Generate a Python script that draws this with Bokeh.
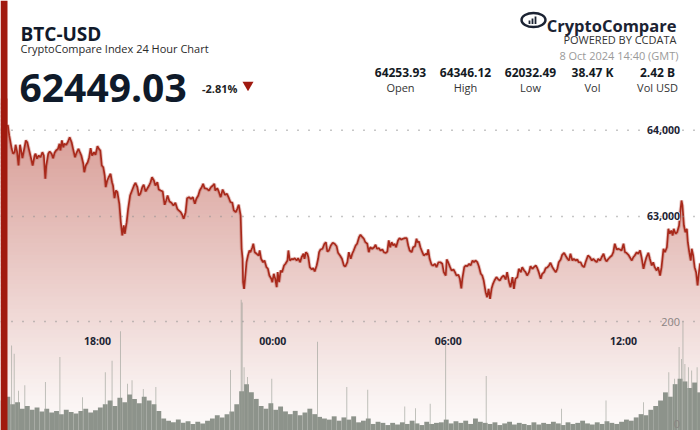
import datetime as dt
from bokeh.plotting import figure
from bokeh.models import Range1d, Label, Span, BoxAnnotation
from bokeh.embed import file_html
from bokeh.resources import INLINE

# ---------------- data ----------------
START = dt.datetime(2024, 10, 7, 14, 41, tzinfo=dt.timezone.utc)
END = dt.datetime(2024, 10, 8, 14, 38, tzinfo=dt.timezone.utc)

# price: minutes after START, index price (USD)
price_minutes = [
    15, 18, 23, 26, 29, 31, 34, 37, 40, 43, 45, 48, 52, 55, 59, 63, 66, 70, 72, 75,
    78, 82, 86, 89, 92, 94, 98, 101, 105, 108, 111, 114, 118, 121, 123, 126, 129, 131, 135, 138,
    142, 146, 149, 153, 156, 160, 163, 166, 170, 172, 175, 179, 182, 185, 188, 192, 195, 199, 202, 205,
    208, 211, 214, 216, 219, 222, 226, 229, 231, 234, 237, 240, 244, 247, 250, 253, 255, 259, 262, 266,
    270, 274, 277, 281, 284, 287, 291, 294, 298, 301, 305, 308, 311, 315, 318, 322, 325, 329, 333, 337,
    340, 343, 347, 351, 355, 359, 363, 366, 370, 373, 376, 380, 383, 387, 391, 395, 399, 402, 406, 409,
    413, 416, 419, 424, 428, 432, 436, 439, 441, 445, 448, 452, 456, 461, 465, 469, 472, 476, 479, 483,
    486, 489, 493, 495, 497, 498, 500, 502, 505, 508, 511, 513, 517, 519, 522, 526, 530, 532, 535, 539,
    542, 546, 549, 552, 556, 558, 561, 564, 567, 569, 572, 575, 578, 582, 585, 589, 591, 594, 598, 601,
    604, 608, 611, 615, 618, 622, 624, 627, 630, 632, 635, 639, 642, 645, 649, 652, 654, 657, 661, 665,
    668, 671, 674, 678, 682, 686, 690, 693, 697, 701, 705, 708, 712, 715, 719, 722, 725, 729, 732, 736,
    739, 743, 746, 749, 753, 756, 759, 763, 767, 770, 773, 777, 780, 784, 787, 791, 794, 797, 800, 803,
    806, 809, 812, 816, 819, 823, 826, 830, 834, 837, 840, 844, 847, 851, 854, 856, 859, 862, 866, 869,
    873, 876, 878, 881, 885, 888, 892, 895, 899, 903, 907, 910, 914, 916, 919, 923, 926, 930, 933, 936,
    940, 943, 946, 948, 952, 955, 958, 962, 965, 969, 972, 975, 979, 982, 986, 989, 992, 996, 999, 1002,
    1005, 1008, 1011, 1014, 1018, 1021, 1025, 1029, 1033, 1037, 1040, 1044, 1047, 1051, 1054, 1057, 1061, 1064, 1068, 1071,
    1075, 1078, 1081, 1085, 1088, 1092, 1095, 1099, 1102, 1105, 1109, 1112, 1116, 1119, 1123, 1126, 1129, 1133, 1136, 1140,
    1143, 1146, 1150, 1153, 1157, 1160, 1164, 1167, 1170, 1174, 1177, 1181, 1184, 1187, 1191, 1194, 1198, 1201, 1206, 1210,
    1214, 1217, 1220, 1224, 1227, 1231, 1234, 1238, 1241, 1244, 1248, 1251, 1255, 1258, 1261, 1265, 1268, 1272, 1275, 1279,
    1282, 1285, 1289, 1292, 1296, 1299, 1302, 1306, 1309, 1313, 1316, 1320, 1323, 1326, 1330, 1333, 1337, 1340, 1343, 1347,
    1350, 1354, 1357, 1361, 1364, 1368, 1371, 1374, 1377, 1380, 1382, 1386, 1389, 1393, 1395, 1398, 1400, 1403, 1406, 1409,
    1411, 1414, 1417, 1419, 1422, 1425, 1428, 1431, 1433, 1436, 1439,
]
price_values = [
    64063, 63939, 63784, 63727, 63745, 63831, 63753, 63591, 63831, 63745,
    63676, 63765, 63881, 63861, 63765, 63669, 63591, 63707, 63727, 63669,
    63707, 63687, 63745, 63707, 63437, 63591, 63727, 63753, 63727, 63676,
    63738, 63765, 63784, 63842, 63765, 63881, 63803, 63842, 63831, 63861,
    63919, 63861, 63784, 63687, 63738, 63784, 63745, 63707, 63611, 63513,
    63591, 63629, 63687, 63791, 63707, 63745, 63715, 63815, 63784, 63765,
    63591, 63571, 63475, 63340, 63417, 63455, 63495, 63397, 63359, 63212,
    63301, 63282, 63147, 62934, 62780, 62896, 62800, 62934, 63089, 63243,
    63301, 63359, 63390, 63340, 63243, 63263, 63340, 63367, 63290, 63321,
    63359, 63397, 63455, 63417, 63359, 63397, 63313, 63301, 63290, 63136,
    63185, 63243, 63174, 63159, 63127, 63159, 63089, 63070, 63050, 63020,
    62973, 63050, 63212, 63224, 63205, 63224, 63147, 63205, 63243, 63301,
    63340, 63379, 63328, 63321, 63301, 63340, 63359, 63379, 63301, 63328,
    63290, 63224, 63313, 63251, 63263, 63212, 63168, 63159, 63070, 63050,
    63089, 63136, 63012, 62626, 62510, 62239, 62162, 62278, 62470, 62548,
    62606, 62586, 62644, 62684, 62586, 62568, 62548, 62606, 62510, 62470,
    62490, 62413, 62394, 62316, 62278, 62239, 62336, 62278, 62181, 62355,
    62239, 62374, 62355, 62432, 62452, 62490, 62606, 62490, 62510, 62502,
    62517, 62490, 62517, 62470, 62528, 62568, 62510, 62586, 62568, 62528,
    62413, 62386, 62401, 62363, 62432, 62510, 62586, 62618, 62626, 62684,
    62702, 62594, 62606, 62664, 62695, 62684, 62656, 62579, 62548, 62510,
    62432, 62421, 62470, 62586, 62510, 62568, 62606, 62664, 62684, 62760,
    62788, 62760, 62742, 62702, 62684, 62586, 62644, 62626, 62644, 62672,
    62626, 62633, 62606, 62618, 62586, 62579, 62594, 62722, 62644, 62702,
    62664, 62684, 62644, 62722, 62749, 62733, 62742, 62749, 62749, 62664,
    62606, 62586, 62644, 62656, 62742, 62702, 62710, 62644, 62586, 62548,
    62568, 62556, 62618, 62510, 62440, 62432, 62452, 62413, 62470, 62470,
    62452, 62355, 62316, 62502, 62470, 62413, 62374, 62386, 62355, 62316,
    62324, 62278, 62166, 62278, 62413, 62432, 62424, 62452, 62432, 62490,
    62470, 62490, 62470, 62424, 62336, 62316, 62258, 62123, 62065, 62162,
    62046, 62162, 62220, 62258, 62297, 62278, 62258, 62297, 62316, 62270,
    62355, 62239, 62181, 62297, 62162, 62278, 62297, 62394, 62355, 62413,
    62374, 62355, 62316, 62355, 62424, 62394, 62413, 62432, 62401, 62355,
    62278, 62336, 62355, 62401, 62413, 62432, 62464, 62413, 62386, 62355,
    62394, 62470, 62502, 62556, 62579, 62548, 62510, 62490, 62568, 62490,
    62510, 62490, 62502, 62470, 62470, 62432, 62413, 62470, 62548, 62528,
    62490, 62510, 62490, 62470, 62510, 62490, 62528, 62568, 62510, 62479,
    62510, 62528, 62548, 62586, 62684, 62618, 62626, 62618, 62606, 62684,
    62586, 62579, 62556, 62528, 62490, 62528, 62548, 62586, 62568, 62606,
    62528, 62394, 62470, 62528, 62579, 62510, 62432, 62470, 62413, 62374,
    62413, 62316, 62413, 62626, 62586, 62644, 62857, 62800, 62838, 62780,
    62857, 62800, 62818, 62896, 63031, 63185, 63127, 62896, 62818, 62857,
    62702, 62586, 62490, 62626, 62548, 62413, 62355, 62200, 62316, 62452,
    62449,
]

# volume (BTC): 10-minute base level
vol_base_minutes = list(range(0, 1440, 10))
vol_base_values = [
    55, 62, 48, 52, 40, 45, 38, 42, 35, 40,
    33, 36, 30, 38, 34, 31, 36, 40, 33, 37,
    42, 48, 55, 45, 60, 52, 66, 58, 50, 62,
    55, 48, 36, 22, 18, 15, 20, 14, 17, 12,
    16, 13, 18, 22, 28, 24, 30, 35, 48, 72,
    85, 70, 58, 45, 40, 50, 38, 44, 35, 30,
    36, 28, 33, 40, 30, 25, 22, 20, 26, 18,
    24, 20, 26, 15, 18, 22, 12, 16, 14, 10,
    14, 11, 15, 12, 18, 13, 10, 16, 12, 14,
    15, 20, 13, 17, 14, 18, 12, 22, 16, 14,
    12, 15, 10, 13, 16, 11, 14, 12, 10, 15,
    11, 14, 12, 16, 13, 10, 15, 12, 14, 18,
    13, 11, 15, 12, 17, 14, 12, 16, 20, 18,
    24, 30, 28, 38, 45, 55, 70, 62, 85, 95,
    90, 78, 88, 70,
]
# single-minute volume spikes
vol_spike_minutes = [23, 28, 37, 50, 92, 122, 168, 215, 229, 246, 261, 270, 293, 319, 472, 494, 496, 500,
                     507, 557, 651, 711, 754, 830, 852, 882, 914, 997, 1152, 1243, 1320, 1372, 1384,
                     1393, 1398, 1401, 1405, 1412, 1419, 1430]
vol_spike_values = [156, 141, 73, 83, 89, 135, 61, 107, 128, 182, 86, 92, 76, 80, 111, 240, 235, 116,
                    98, 95, 163, 80, 75, 44, 41, 49, 157, 100, 40, 55, 52, 107, 95,
                    153, 131, 200, 122, 116, 110, 116]

price_ticks = [64000, 63000]
price_tick_labels = ["64,000", "63,000"]
vol_ticks = [200, 0]
vol_tick_labels = ["200", "0"]
time_ticks = ["2024-10-07 18:00", "2024-10-08 00:00", "2024-10-08 06:00", "2024-10-08 12:00"]
time_tick_labels = ["18:00", "00:00", "06:00", "12:00"]

stat_values = ["64253.93", "64346.12", "62032.49", "38.47 K", "2.42 B"]
stat_labels = ["Open", "High", "Low", "Vol", "Vol USD"]

# ---------------- helpers ----------------
W, H = 700, 430
FONT = "Open Sans"


def ms(d):
    return d.timestamp() * 1000.0


def tmin(m):
    return ms(START + dt.timedelta(minutes=m))


X0, X1 = ms(START), ms(END)
Y_TOP, Y_BOT = 65503.0, 60520.0
V_TOP = 789.0


def px_x(px):
    return X0 + px / W * (X1 - X0)


def px_y(py):
    return Y_TOP - py / H * (Y_TOP - Y_BOT)


p = figure(width=W, height=H, output_backend="svg", toolbar_location=None,
           x_axis_location=None, y_axis_location=None,
           x_range=Range1d(X0, X1), y_range=Range1d(Y_BOT, Y_TOP),
           min_border=0, min_border_left=0, min_border_right=0,
           min_border_top=0, min_border_bottom=0)
p.outline_line_color = None
p.background_fill_color = "white"
p.border_fill_color = "white"
p.xgrid.visible = False
p.ygrid.visible = False
p.extra_y_ranges = {"vol": Range1d(0, V_TOP)}

# ---- vertical gradient background (revealed below the price line) ----
stops = [(110, (214, 152, 145)), (400, (250, 243, 242)), (430, (253, 250, 250))]


def grad(py):
    for (a, ca), (b, cb) in zip(stops[:-1], stops[1:]):
        if py <= b:
            f = max(0.0, min(1.0, (py - a) / (b - a)))
            return tuple(int(round(ca[i] + (cb[i] - ca[i]) * f)) for i in range(3))
    return stops[-1][1]


N = 80
band_top, band_bot, band_col = [], [], []
for i in range(N):
    a = 100 + (H - 100) * i / N
    b = 100 + (H - 100) * (i + 1) / N
    band_top.append(px_y(a - 2.0))
    band_bot.append(px_y(b + 0.5))
    r, g, bl = grad((a + b) / 2)
    band_col.append("#%02x%02x%02x" % (r, g, bl))
p.quad(left=X0, right=X1, top=band_top, bottom=band_bot, fill_color=band_col, line_color=None)

t_price = [tmin(m) for m in price_minutes]
# white above the price line
p.varea(x=t_price, y1=price_values, y2=Y_TOP, fill_color="white")

# ---- volume ----
t_vb = [tmin(m + 5) for m in vol_base_minutes]
p.vbar(x=t_vb, top=vol_base_values, bottom=0, width=10 * 60000, y_range_name="vol",
       fill_color="#8d938b", line_color=None)
t_vs = [tmin(m) for m in vol_spike_minutes]
p.vbar(x=t_vs, top=vol_spike_values, bottom=0, width=1.4 * 60000, y_range_name="vol",
       fill_color="#9aa097", line_color=None, fill_alpha=0.9)

# ---- price line ----
p.line(t_price, price_values, line_color="#a2281b", line_width=3.6, line_alpha=0.25)
p.line(t_price, price_values, line_color="#a8291b", line_width=1.7)

# ---- dotted gridlines ----
for v in price_ticks:
    p.add_layout(Span(location=v, dimension="width", line_color="#8e8e8e", line_width=1.4,
                      line_dash="1 10", level="overlay"))
p.add_layout(Span(location=vol_ticks[0], dimension="width", y_range_name="vol", line_color="#8e8e8e",
                  line_width=1.4, line_dash="1 10", level="overlay"))

# ---- tick labels ----
for v, s in zip(price_ticks, price_tick_labels):
    p.add_layout(Label(x=679.5, y=v, x_units="screen", y_units="data", text=s,
                       text_align="right", text_baseline="middle", text_font=FONT,
                       text_font_size="10.5px", text_font_style="bold", text_color="#1c2433",
                       background_fill_color="white", background_fill_alpha=1.0))
r, g, bl = grad(321)
for v, s in zip(vol_ticks, vol_tick_labels):
    p.add_layout(Label(x=679.5, y=v, x_units="screen", y_units="data", y_range_name="vol", text=s,
                       text_align="right", text_baseline="middle" if v else "bottom",
                       y_offset=0 if v else 3,
                       text_font=FONT, text_font_size="11px", text_color="#8a8482",
                       background_fill_color="#%02x%02x%02x" % (r, g, bl) if v else None,
                       background_fill_alpha=1.0))
for s_t, s in zip(time_ticks, time_tick_labels):
    tx = ms(dt.datetime.strptime(s_t, "%Y-%m-%d %H:%M").replace(tzinfo=dt.timezone.utc))
    p.add_layout(Label(x=tx, y=H - 340.5, x_units="data", y_units="screen", text=s,
                       text_align="center", text_baseline="alphabetic", text_font=FONT,
                       text_font_size="10.5px", text_font_style="bold", text_color="#1c2433"))

# ---- left accent bar ----
p.add_layout(BoxAnnotation(left=0, right=7, left_units="screen", right_units="screen",
                           fill_color="#a11a0f", fill_alpha=1.0, line_color=None, level="overlay"))


# ---- header ----
def lab(x, y_from_top, text, size, color, bold=False, align="left"):
    p.add_layout(Label(x=x, y=H - y_from_top, x_units="screen", y_units="screen", text=text,
                       text_align=align, text_baseline="alphabetic", text_font=FONT,
                       text_font_size=size, text_font_style="bold" if bold else "normal",
                       text_color=color))


lab(20, 33.5, "BTC-USD", "19px", "#111a2b", bold=True)
lab(20, 47.5, "CryptoCompare Index 24 Hour Chart", "11px", "#2a2a2a")
lab(19, 87.5, "62449.03", "39px", "#0f1a2a", bold=True)
lab(201.5, 88, "-2.81%", "11px", "#222222", bold=True)
p.scatter(x=[px_x(247.5)], y=[px_y(84.5)], marker="inverted_triangle", size=11,
          fill_color="#a01a10", line_color=None)

# logo
lab(676, 25, "CryptoCompare", "16.5px", "#1b2333", bold=True, align="right")
lab(676, 38.5, "POWERED BY CCDATA", "11px", "#333333", align="right")
lab(678, 55, "8 Oct 2024 14:40 (GMT)", "11px", "#9a9a9a", align="right")
p.ellipse(x=[px_x(533)], y=[px_y(19.5)], width=24 * (X1 - X0) / W, height=14 * (Y_TOP - Y_BOT) / H,
          fill_color=None, line_color="#1b2333", line_width=2.4)
p.segment(x0=[px_x(529), px_x(532), px_x(535)], y0=[px_y(23.5)] * 3,
          x1=[px_x(529), px_x(532), px_x(535)], y1=[px_y(20), px_y(18), px_y(16)],
          line_color="#1b2333", line_width=1.8)

stat_x = [400, 465, 530, 592, 657]
for x, v, s in zip(stat_x, stat_values, stat_labels):
    lab(x, 72, v, "12px", "#141a24", bold=True, align="center")
    lab(x, 87, s, "11px", "#333333", align="center")

open("out.html", "w").write(file_html(p, INLINE))
